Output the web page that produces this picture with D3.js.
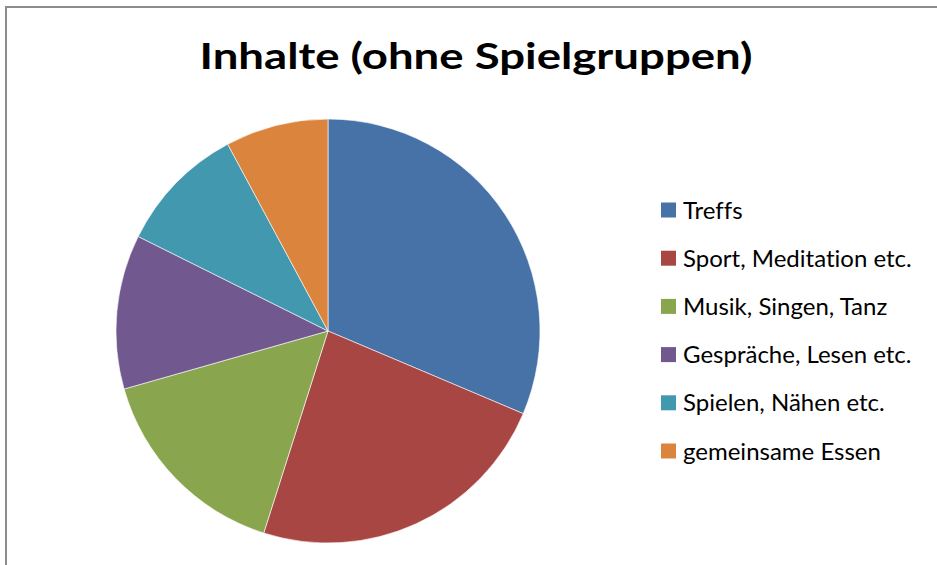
<!DOCTYPE html>
<html>
<head>
<meta charset="utf-8">
<script src="https://cdn.jsdelivr.net/npm/d3@7"></script>
<style>
  html, body { margin: 0; padding: 0; background: #fff; }
  svg { display: block; }
  text { font-variant-ligatures: none; }
</style>
</head>
<body>
<div id="chart"></div>
<script>
const categories = [
  "Treffs",
  "Sport, Meditation etc.",
  "Musik, Singen, Tanz",
  "Gespräche, Lesen etc.",
  "Spielen, Nähen etc.",
  "gemeinsame Essen"
];
const values = [16, 12, 8, 6, 5, 4];
const colors = ["#4672A8", "#A84644", "#89A54E", "#71588F", "#4298AF", "#DB843D"];
const title = "Inhalte (ohne Spielgruppen)";

const W = 937, H = 565;
const FONT = "Lato, Carlito, 'Open Sans', sans-serif";

const svg = d3.select("#chart").append("svg")
  .attr("width", W).attr("height", H);

svg.append("rect").attr("width", W).attr("height", H).attr("fill", "#fff");

// chart frame (runs off the right and bottom edges)
svg.append("rect")
  .attr("x", 6).attr("y", 7)
  .attr("width", W + 20).attr("height", H + 20)
  .attr("fill", "none")
  .attr("stroke", "#8c8c8c")
  .attr("stroke-width", 2);

// title
svg.append("text")
  .attr("x", 476).attr("y", 69)
  .attr("text-anchor", "middle")
  .attr("font-family", FONT)
  .attr("font-weight", "bold")
  .attr("font-size", 37)
  .attr("textLength", 553)
  .attr("lengthAdjust", "spacingAndGlyphs")
  .attr("fill", "#000")
  .text(title);

// pie
const cx = 328, cy = 331, r = 212;
const pie = d3.pie().sort(null).value(d => d.v);
const arc = d3.arc().innerRadius(0).outerRadius(r);
const data = categories.map((c, i) => ({ name: c, v: values[i], color: colors[i] }));

const g = svg.append("g").attr("transform", `translate(${cx},${cy})`);
g.selectAll("path")
  .data(pie(data))
  .join("path")
  .attr("d", arc)
  .attr("fill", d => d.data.color)
  .attr("stroke", "#fff")
  .attr("stroke-width", 0.6);

// legend
const y = d3.scalePoint().domain(categories).range([210, 451]);
const leg = svg.append("g");
const items = leg.selectAll("g")
  .data(data)
  .join("g")
  .attr("transform", d => `translate(661,${y(d.name)})`);
items.append("rect")
  .attr("x", 0).attr("y", -7.5)
  .attr("width", 15).attr("height", 15)
  .attr("fill", d => d.color);
items.append("text")
  .attr("x", 22).attr("y", 8.5)
  .attr("font-family", FONT)
  .attr("font-size", 24)
  .attr("fill", "#000")
  .text(d => d.name);
</script>
</body>
</html>
